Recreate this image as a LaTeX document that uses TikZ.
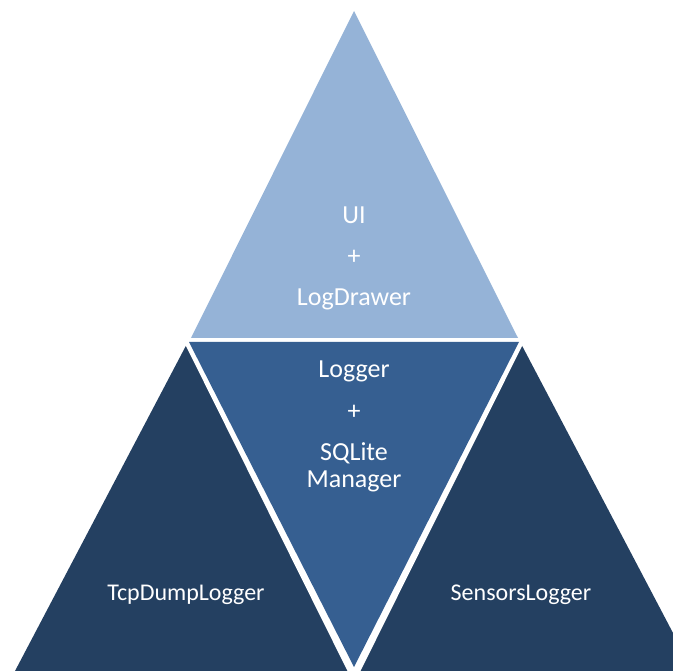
\documentclass[tikz,border=0pt]{standalone}
\usepackage{fontspec}
\setmainfont{Carlito}
\usetikzlibrary{positioning}

\definecolor{topblue}{HTML}{95B3D7}
\definecolor{midblue}{HTML}{365F91}
\definecolor{darkblue}{HTML}{244061}

\begin{document}
\begin{tikzpicture}[x=1pt, y=-1pt,
    lbl/.style={text=white, align=center, inner sep=0pt, anchor=base,
                font=\fontsize{26}{27}\selectfont},
    small/.style={font=\fontsize{24}{27}\selectfont}
]
    \useasboundingbox (0,0) rectangle (673,671);
    \clip (0,0) rectangle (673,671);

    % the two bottom corners
    \fill[darkblue] (190,338) -- (15,671) -- (360,671) -- cycle;
    \fill[darkblue] (518,338) -- (693,671) -- (348,671) -- cycle;
    % gap round the middle one
    \fill[white] (182,338) -- (526,338) -- (354,684) -- cycle;
    \fill[midblue] (189,342) -- (519,342) -- (354,667) -- cycle;
    \fill[topblue] (354,11) -- (191,338) -- (518,338) -- cycle;

    % base is the last line
    \node[lbl] (ui) at (354,306) {UI\\[14pt]+\\[14pt]LogDrawer};
    \node[lbl] (logger) at (354,487) {Logger\\[15pt]+\\[14pt]SQLite\\Manager};
    \node[lbl, small] (tcpdump) at (186,600) {TcpDumpLogger};
    \node[lbl, small] (sensors) at (521,600) {SensorsLogger};
\end{tikzpicture}
\end{document}
